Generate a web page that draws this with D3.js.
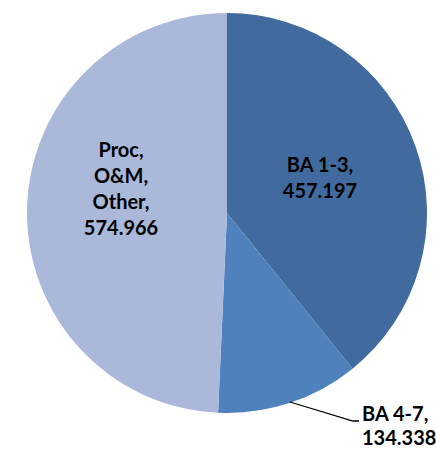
<!DOCTYPE html>
<html><head><meta charset="utf-8">
<script src="https://cdn.jsdelivr.net/npm/d3@7"></script>
<style>body{margin:0;background:#fff}text{font-family:Lato,"Open Sans",sans-serif;font-weight:bold;fill:#000}</style>
</head><body>
<svg id="c" width="436" height="449"></svg>
<script>
const categories = ["BA 1-3", "BA 4-7", "Proc, O&M, Other"];
const values = [457.197, 134.338, 574.966];
const valueLabels = ["457.197", "134.338", "574.966"];
const labelLines = [["BA 1-3,", "457.197"], ["BA 4-7,", "134.338"], ["Proc,", "O&M,", "Other,", "574.966"]];
const colors = ["#416B9E", "#4F81BD", "#AAB9D9"];

const svg = d3.select("#c");
const cx = 227, cy = 213, r = 200;
const g = svg.append("g").attr("transform", `translate(${cx},${cy})`);
const data = categories.map((c, i) => ({c, v: values[i], i}));
const pie = d3.pie().value(d => d.v).sort(null);
const arcs = pie(data);
const arc = d3.arc().innerRadius(0).outerRadius(r);
g.selectAll("path").data(arcs).join("path")
  .attr("d", arc).attr("fill", (d) => colors[d.data.i]);

const fs = 20, lh = 26;
const inside = d3.arc().innerRadius(r * 0.5).outerRadius(r * 0.5);
[0, 2].forEach(i => {
  const a = arcs[i];
  let [x, y] = inside.centroid(a);
  if (i === 0) { x = 93; y = -35; }
  if (i === 2) { x = -106; y = -24; }
  const lines = labelLines[i];
  const t = g.append("text").attr("text-anchor", "middle").attr("font-size", fs);
  lines.forEach((l, k) => {
    t.append("tspan").attr("x", x).attr("y", y + (k - (lines.length - 1) / 2) * lh + 7).text(l);
  });
});
const p0 = [290 - cx, 402 - cy];
const p1 = [353 - cx, 421 - cy];
const p2 = [359 - cx, 421 - cy];
g.append("path").attr("d", d3.line()([p0, p1, p2])).attr("fill", "none").attr("stroke", "#000").attr("stroke-width", 1.3);
const t2 = g.append("text").attr("font-size", fs);
labelLines[1].forEach((l, k) => {
  t2.append("tspan").attr("x", 362 - cx).attr("y", 421 - cy + k * 24).text(l);
});
</script>
</body></html>
